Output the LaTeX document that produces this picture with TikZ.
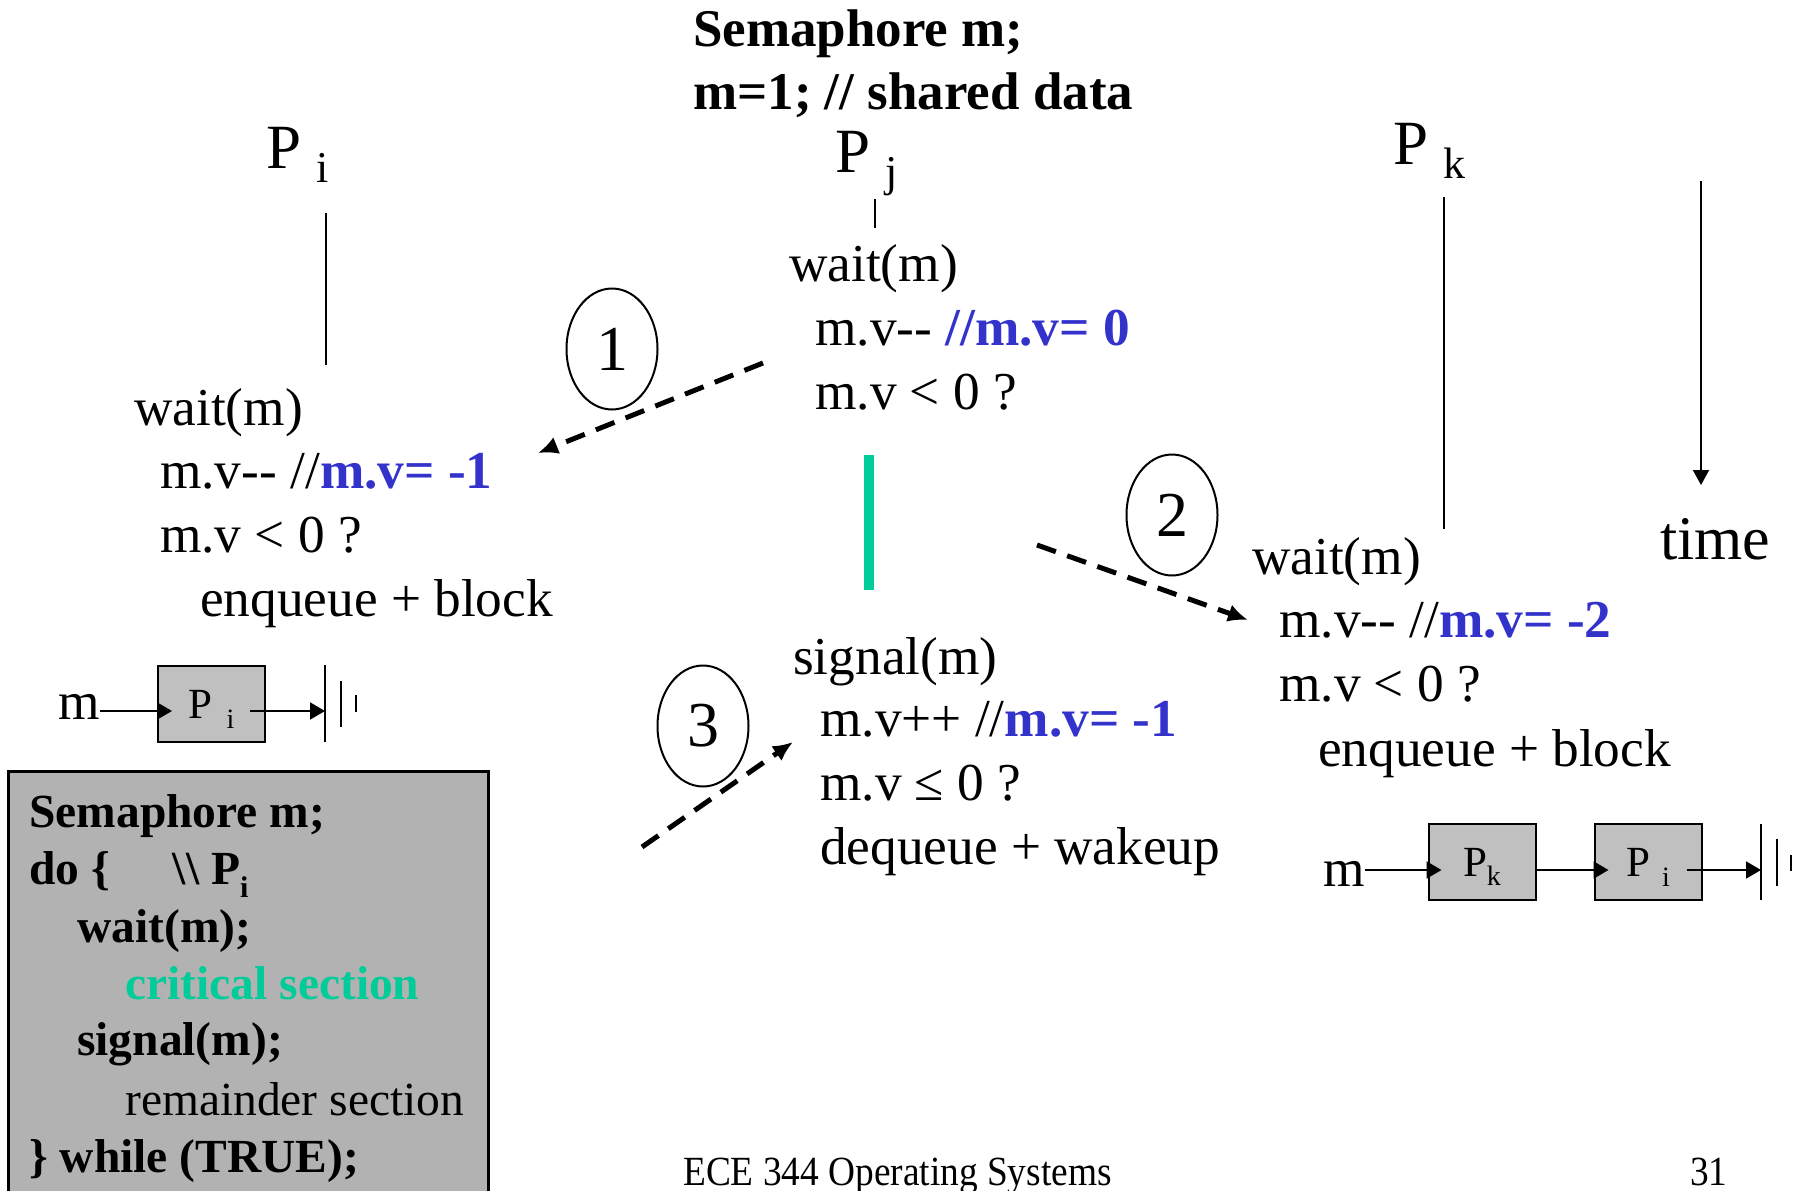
\documentclass[tikz,border=0pt]{standalone}
\usepackage{fontspec}
\setmainfont{Liberation Serif}
\newfontfamily\footfont{Liberation Serif}[FakeStretch=0.9]
\usetikzlibrary{arrows.meta,shapes.geometric}
\definecolor{valblue}{RGB}{51,51,204}
\definecolor{csgreen}{RGB}{0,204,153}
\definecolor{qgray}{RGB}{192,192,192}
\definecolor{codegray}{RGB}{178,178,178}

% process label: big P with a spaced, lowered subscript
\newcommand\bigp[1]{P\hspace{15pt}\raisebox{-14pt}{\fontsize{44}{44}\selectfont #1}}
% value annotation in bold blue
\newcommand\val[1]{\textcolor{valblue}{\bfseries #1}}
% two separate hyphens (no en-dash ligature)
\newcommand\dec{-\kern0pt-}

\begin{document}
\begin{tikzpicture}[x=1pt,y=-1pt,
  tline/.style={anchor=base west,inner sep=0pt,font=\fontsize{53.3}{62}\selectfont},
  ttitle/.style={anchor=base west,inner sep=0pt,font=\fontsize{53}{62}\selectfont\bfseries},
  plabel/.style={anchor=base west,inner sep=0pt,font=\fontsize{63}{70}\selectfont},
  codeline/.style={anchor=base west,inner sep=0pt,font=\fontsize{47.5}{56}\selectfont\bfseries},
  stepnum/.style={ellipse,draw,line width=2pt,minimum width=91pt,minimum height=121pt,inner sep=0pt,font=\fontsize{64}{70}\selectfont},
  qbox/.style={draw,line width=2pt,fill=qgray,minimum width=107pt,minimum height=76pt,inner sep=0pt,text height=28pt,text depth=0pt,font=\fontsize{43}{46}\selectfont},
  qarrow/.style={line width=2pt,-{Triangle[length=15pt,width=17pt]}},
  qline/.style={line width=2pt},
  timeline/.style={line width=2pt},
  flow/.style={line width=5pt,dash pattern=on 20pt off 12pt,-{Latex[length=20pt,width=18pt]}},
]
\useasboundingbox (0,0) rectangle (1800,1191);

% shared declaration
\node[ttitle] (t1) at (693,46) {Semaphore m;};
\node[ttitle] (t2) at (693,109) {m=1; // shared data};

% processes and their time lines
\node[plabel] (pi) at (266,168) {\bigp{i}};
\node[plabel] (pj) at (835,172) {\bigp{j}};
\node[plabel] (pk) at (1393,164) {\bigp{k}};
\coordinate (pitop) at (326,213); \coordinate (pibot) at (326,365);
\coordinate (pjtop) at (875,199); \coordinate (pjbot) at (875,228);
\coordinate (pktop) at (1444,197); \coordinate (pkbot) at (1444,529);
\draw[timeline] (pitop) -- (pibot);
\draw[timeline] (pjtop) -- (pjbot);
\draw[timeline] (pktop) -- (pkbot);

% time axis
\coordinate (ttop) at (1701,181); \coordinate (tbot) at (1701,485);
\draw[line width=2pt,-{Triangle[length=15pt,width=16pt]}] (ttop) -- (tbot);
\node[anchor=base west,inner sep=0pt,font=\fontsize{62}{70}\selectfont] (time) at (1660,559) {time};

% P_i: wait
\node[tline] (l1) at (134,425) {wait(m)};
\node[tline] (l2) at (160,488) {m.v\dec{} //\val{m.v= -1}};
\node[tline] (l3) at (160,552) {m.v < 0 ?};
\node[tline] (l4) at (200,616) {enqueue + block};

% P_j: wait
\node[tline] (m1) at (789,281) {wait(m)};
\node[tline] (m2) at (815,345) {m.v\dec{} \val{//m.v= 0}};
\node[tline] (m3) at (815,409) {m.v < 0 ?};

% P_j: critical section
\fill[csgreen] (864,455) rectangle (874,590);

% P_j: signal
\node[tline] (s1) at (793,674) {signal(m)};
\node[tline] (s2) at (820,736) {m.v++ //\val{m.v= -1}};
\node[tline] (s3) at (820,800) {m.v ≤ 0 ?};
\node[tline] (s4) at (820,864) {dequeue + wakeup};

% P_k: wait
\node[tline] (r1) at (1252,574) {wait(m)};
\node[tline] (r2) at (1279,637) {m.v\dec{} //\val{m.v= -2}};
\node[tline] (r3) at (1279,701) {m.v < 0 ?};
\node[tline] (r4) at (1318,766) {enqueue + block};

% order of events
\node[stepnum] (c1) at (612,349) {1};
\node[stepnum] (c2) at (1172,515) {2};
\node[stepnum] (c3) at (703,726) {3};
\coordinate (a1s) at (763,363); \coordinate (a1e) at (538,453);
\coordinate (a2s) at (1037,545); \coordinate (a2e) at (1248,620);
\coordinate (a3s) at (642,847); \coordinate (a3e) at (793,742);
\draw[flow] (a1s) -- (a1e);
\draw[flow] (a2s) -- (a2e);
\draw[flow] (a3s) -- (a3e);

% queue after P_i blocks
\node[tline] (qm1) at (58,719) {m};
\node[qbox] (qb1) at (211.5,704) {P\hspace{14pt}\raisebox{-10pt}{\fontsize{28}{30}\selectfont i}};
\coordinate (q1in) at ([xshift=15pt,yshift=-7pt]qb1.west);
\coordinate (q1out) at ([xshift=-16pt,yshift=-7pt]qb1.east);
\coordinate (q1end) at (325,711);
\draw[qarrow] (qm1.east |- q1in) -- (q1in);
\draw[qarrow] (q1out) -- (q1end);
\draw[qline] (325,665) -- (325,742);
\draw[qline] (341,681) -- (341,727);
\draw[qline] (356,695) -- (356,712);

% queue after P_k blocks
\node[tline] (qm2) at (1323,886) {m};
\node[qbox] (qb2) at (1482,862) {P\raisebox{-9pt}{\fontsize{28}{30}\selectfont k}};
\node[qbox] (qb3) at (1648,862) {P\hspace{12pt}\raisebox{-10pt}{\fontsize{28}{30}\selectfont i}};
\coordinate (q2in) at ([xshift=14pt,yshift=-8pt]qb2.west);
\coordinate (q2out) at ([yshift=-8pt]qb2.east);
\coordinate (q3in) at ([xshift=15pt,yshift=-8pt]qb3.west);
\coordinate (q3out) at ([xshift=-16pt,yshift=-8pt]qb3.east);
\coordinate (q3end) at (1761,870);
\draw[qarrow] (qm2.east |- q2in) -- (q2in);
\draw[qarrow] (q2out) -- (q3in);
\draw[qarrow] (q3out) -- (q3end);
\draw[qline] (1761,824) -- (1761,900);
\draw[qline] (1777,839) -- (1777,886);
\draw[qline] (1791,855) -- (1791,871);

% code of P_i
\node[draw,line width=2.5pt,fill=codegray,anchor=north west,minimum width=480pt,minimum height=440pt,inner sep=0pt] (code) at (7,770) {};
\node[codeline] (cl1) at (29,827) {Semaphore m;};
\node[codeline] (cl2) at (29,884) {do \{\hspace{63pt}\textbackslash\textbackslash\ P\raisebox{-13pt}{\fontsize{30}{32}\selectfont i}};
\node[codeline] (cl3) at (77,942) {wait(m);};
\node[codeline] (cl4) at (125,999) {\color{csgreen}critical section};
\node[codeline] (cl5) at (77,1055) {signal(m);};
\node[codeline] (cl6) at (125,1115) {\mdseries remainder section};
\node[codeline] (cl7) at (29,1172) {\} while (TRUE);};

% footer
\node[anchor=base west,inner sep=0pt,font=\footfont\fontsize{41.5}{46}\selectfont] (foot) at (683,1185) {ECE 344 Operating Systems};
\node[anchor=base west,inner sep=0pt,font=\footfont\fontsize{41.5}{46}\selectfont] (page) at (1690,1185) {31};
\end{tikzpicture}
\end{document}
